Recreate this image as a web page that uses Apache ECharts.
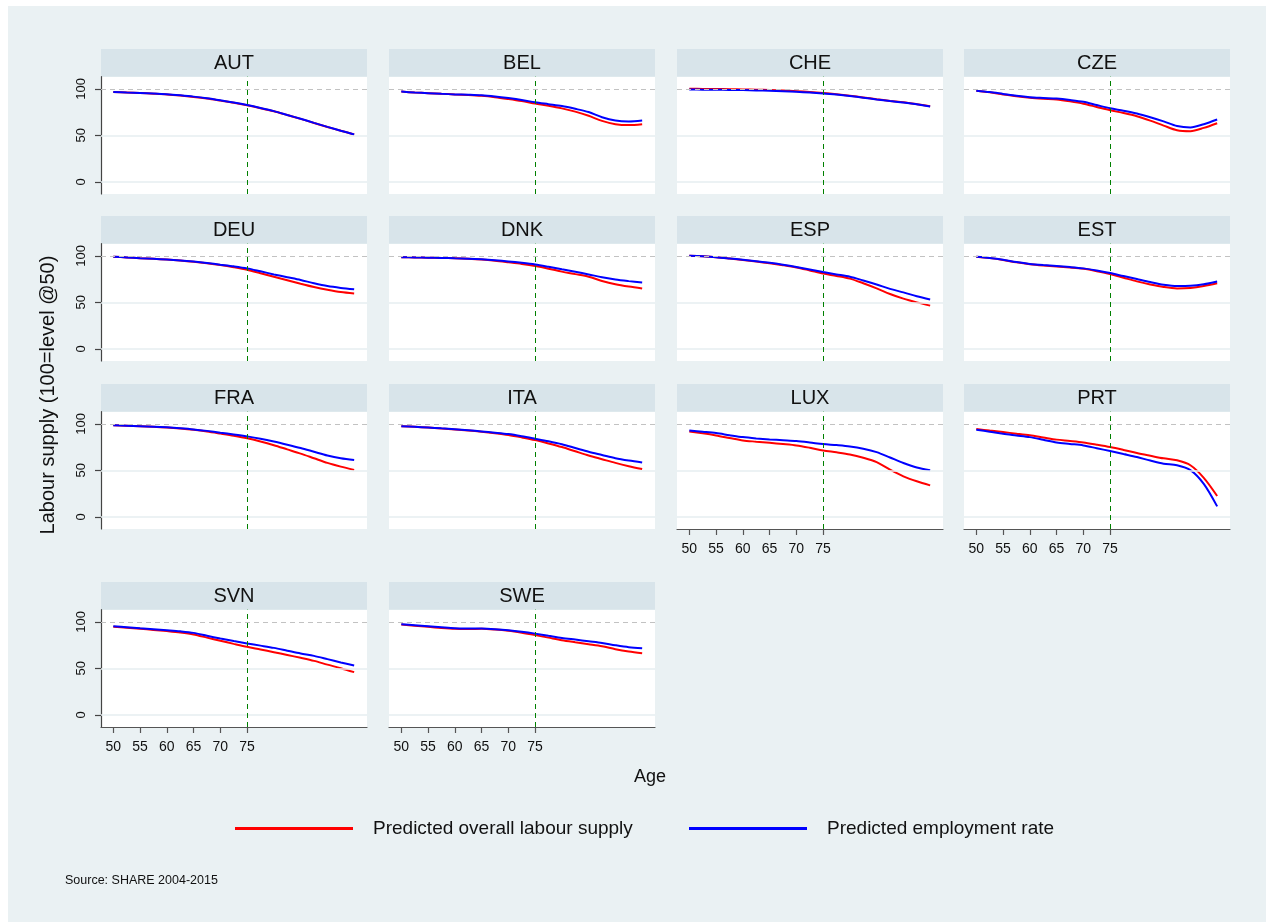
<!DOCTYPE html>
<html>
<head>
<meta charset="utf-8">
<script src="https://cdn.jsdelivr.net/npm/echarts@6/dist/echarts.min.js"></script>
<style>
html,body{margin:0;padding:0;background:#ffffff;}
#bg{position:absolute;left:8px;top:6px;width:1258px;height:916px;background:#eaf1f3;}
#chart{position:absolute;left:0;top:0;width:1272px;height:922px;}
</style>
</head>
<body>
<div id="bg"></div>
<div id="chart"></div>
<script>
// ---------- data ----------
const ages = [50, 52.5, 55, 57.5, 60, 62.5, 65, 67.5, 70, 72.5, 75, 77.5, 80, 82.5, 85, 87.5, 90, 92.5, 95];
const xTickLabels = [50, 55, 60, 65, 70, 75];
const yTickLabels = [0, 50, 100];
const countries = ['AUT','BEL','CHE','CZE','DEU','DNK','ESP','EST','FRA','ITA','LUX','PRT','SVN','SWE'];
const seriesNames = ['Predicted overall labour supply', 'Predicted employment rate'];

const AUT_supply     = [96.5, 96.0, 95.5, 94.8, 94.0, 92.8, 91.3, 89.5, 87.3, 85.0, 82.3, 79.2, 75.8, 71.8, 67.7, 63.3, 59.0, 55.0, 51.0];
const AUT_employment = [96.5, 96.0, 95.6, 95.0, 94.2, 93.0, 91.6, 89.8, 87.6, 85.2, 82.5, 79.4, 76.0, 71.9, 67.8, 63.4, 59.1, 55.0, 51.0];
const BEL_supply     = [97.0, 96.0, 95.3, 94.6, 94.0, 93.4, 92.5, 91.0, 89.0, 86.8, 84.2, 81.8, 79.0, 75.5, 71.0, 65.5, 62.0, 61.0, 62.0];
const BEL_employment = [97.0, 96.0, 95.3, 94.6, 94.0, 93.6, 93.0, 91.7, 90.0, 88.0, 85.5, 83.5, 81.5, 78.5, 75.0, 69.5, 66.0, 65.0, 66.0];
const CHE_supply     = [100.0, 99.9, 99.8, 99.6, 99.3, 99.1, 98.8, 98.3, 97.5, 96.6, 95.5, 94.1, 92.5, 90.7, 88.8, 87.0, 85.5, 83.5, 81.3];
const CHE_employment = [99.3, 99.1, 99.0, 98.8, 98.6, 98.3, 98.0, 97.5, 96.8, 96.0, 95.0, 93.8, 92.3, 90.5, 88.5, 86.8, 85.3, 83.3, 81.0];
const CZE_supply     = [98.0, 96.2, 94.0, 92.0, 90.5, 89.4, 88.5, 86.5, 84.0, 80.5, 77.0, 74.0, 70.5, 65.8, 60.5, 55.5, 54.5, 58.0, 63.0];
const CZE_employment = [98.0, 96.5, 94.5, 92.5, 91.0, 90.2, 89.5, 88.0, 86.0, 82.5, 79.0, 76.5, 73.5, 69.5, 65.0, 60.0, 58.5, 62.0, 67.0];
const DEU_supply     = [99.0, 98.3, 97.5, 96.8, 96.0, 94.9, 93.5, 91.9, 90.0, 87.7, 85.0, 81.3, 77.5, 73.8, 70.0, 66.5, 63.5, 61.0, 59.5];
const DEU_employment = [99.0, 98.3, 97.5, 96.8, 96.0, 95.0, 93.8, 92.3, 90.5, 88.7, 86.5, 83.3, 80.0, 77.0, 74.0, 70.5, 67.5, 65.5, 64.0];
const DNK_supply     = [98.5, 98.3, 98.0, 97.7, 97.3, 96.8, 96.0, 94.7, 93.0, 91.2, 89.0, 86.2, 83.0, 80.3, 77.5, 73.0, 69.5, 67.0, 65.0];
const DNK_employment = [98.5, 98.3, 98.0, 97.7, 97.3, 96.9, 96.2, 95.2, 94.0, 92.5, 90.7, 88.2, 85.5, 82.8, 80.0, 77.0, 74.5, 72.8, 71.4];
const ESP_supply     = [100.0, 99.4, 98.5, 97.1, 95.5, 93.8, 92.0, 89.9, 87.5, 84.3, 81.0, 78.4, 75.5, 70.5, 65.0, 59.0, 54.0, 50.0, 46.5];
const ESP_employment = [100.0, 99.4, 98.5, 97.2, 95.8, 94.2, 92.5, 90.4, 88.0, 85.3, 82.5, 80.0, 77.5, 73.5, 69.2, 64.5, 60.7, 56.5, 53.0];
const EST_supply     = [99.0, 97.5, 95.5, 93.0, 91.0, 89.6, 88.5, 87.4, 86.0, 83.5, 80.5, 76.5, 72.5, 69.2, 66.5, 65.0, 65.5, 67.5, 70.5];
const EST_employment = [99.0, 97.7, 95.8, 93.3, 91.3, 90.0, 89.0, 87.9, 86.5, 84.3, 81.5, 78.2, 75.0, 71.8, 69.0, 67.5, 67.8, 69.5, 72.5];
const FRA_supply     = [98.5, 98.0, 97.5, 96.8, 96.0, 94.9, 93.5, 91.7, 89.5, 87.2, 84.5, 81.0, 77.0, 72.5, 68.0, 63.0, 58.0, 54.0, 50.5];
const FRA_employment = [98.5, 98.0, 97.5, 96.9, 96.2, 95.2, 94.0, 92.4, 90.5, 88.6, 86.5, 84.0, 81.0, 77.6, 74.0, 70.0, 66.0, 63.0, 61.0];
const ITA_supply     = [97.5, 96.8, 96.0, 95.0, 94.0, 92.8, 91.5, 89.9, 88.0, 85.4, 82.5, 78.9, 75.0, 70.5, 66.0, 62.0, 58.0, 54.5, 51.5];
const ITA_employment = [97.5, 96.8, 96.0, 95.1, 94.2, 93.1, 91.8, 90.5, 89.0, 86.7, 84.0, 81.2, 78.0, 74.0, 70.0, 66.5, 63.0, 60.5, 58.5];
const LUX_supply     = [91.8, 89.8, 87.5, 84.8, 82.1, 80.8, 79.6, 78.3, 76.8, 74.3, 71.4, 69.4, 67.1, 63.6, 58.9, 50.8, 43.6, 38.3, 33.9];
const LUX_employment = [92.9, 91.5, 90.0, 87.8, 85.7, 84.3, 83.2, 82.3, 81.4, 79.9, 78.2, 77.1, 75.7, 73.3, 69.6, 63.8, 57.9, 53.0, 50.0];
const PRT_supply     = [94.3, 92.7, 91.1, 89.4, 87.6, 85.3, 83.0, 81.6, 80.0, 77.6, 75.0, 71.9, 68.6, 65.7, 62.9, 60.8, 55.5, 42.0, 22.5];
const PRT_employment = [93.6, 91.5, 89.3, 87.5, 85.7, 82.9, 80.0, 78.4, 76.8, 73.8, 70.7, 67.5, 64.3, 60.5, 57.2, 55.5, 50.3, 35.5, 11.3];
const SVN_supply     = [94.6, 93.6, 92.5, 91.3, 90.0, 88.5, 86.4, 83.0, 79.6, 76.3, 73.1, 70.3, 67.4, 64.4, 61.3, 58.0, 54.0, 50.2, 45.9];
const SVN_employment = [95.3, 94.2, 93.1, 92.1, 91.0, 89.8, 88.1, 85.0, 82.0, 79.3, 76.7, 74.4, 72.0, 69.0, 66.0, 63.4, 59.9, 56.3, 53.0];
const SWE_supply     = [97.1, 95.8, 94.6, 93.4, 92.5, 92.3, 92.5, 91.7, 90.3, 88.2, 85.7, 83.0, 80.3, 78.1, 76.0, 73.8, 70.6, 68.1, 66.3];
const SWE_employment = [97.4, 96.3, 95.2, 94.1, 93.1, 92.8, 92.7, 92.0, 90.9, 89.3, 87.3, 85.0, 82.7, 80.9, 79.1, 77.3, 74.8, 72.7, 71.6];

const panelData = [
  [AUT_supply, AUT_employment], [BEL_supply, BEL_employment], [CHE_supply, CHE_employment], [CZE_supply, CZE_employment],
  [DEU_supply, DEU_employment], [DNK_supply, DNK_employment], [ESP_supply, ESP_employment], [EST_supply, EST_employment],
  [FRA_supply, FRA_employment], [ITA_supply, ITA_employment], [LUX_supply, LUX_employment], [PRT_supply, PRT_employment],
  [SVN_supply, SVN_employment], [SWE_supply, SWE_employment]
];

// ---------- layout ----------
const FONT = "'Liberation Sans', Arial, Helvetica, sans-serif";
const colX = [101, 389, 677, 964];
const stripTop = [49, 216, 384, 582];
const PW = 266, STRIP_H = 27.7, PH = 117.3;
const bottomPanels = ['LUX', 'PRT', 'SVN', 'SWE'];

const grid = [], xAxis = [], yAxis = [], series = [], graphic = [];

countries.forEach((c, i) => {
  const row = Math.floor(i / 4), col = i % 4;
  const left = colX[col], sTop = stripTop[row], top = sTop + STRIP_H;
  const isBottom = bottomPanels.indexOf(c) >= 0;
  const isLeft = col === 0;

  graphic.push({type: 'rect', silent: true, shape: {x: left, y: sTop, width: PW, height: STRIP_H}, style: {fill: '#d8e4ea'}});
  graphic.push({type: 'text', silent: true, x: left + PW / 2, y: sTop + STRIP_H / 2 + 0.5,
    style: {text: c, fontSize: 20, fontFamily: FONT, fill: '#111', align: 'center', verticalAlign: 'middle', textAlign: 'center', textVerticalAlign: 'middle'}});

  grid.push({left: left, top: top, width: PW, height: PH, show: true, backgroundColor: '#ffffff', borderWidth: 0});

  xAxis.push({
    gridIndex: i, type: 'value', min: 47.7, max: 97.4,
    axisLine: {show: isBottom, onZero: false, lineStyle: {color: '#555', width: 1.2}},
    axisTick: {show: isBottom, customValues: xTickLabels, length: 6, lineStyle: {color: '#555', width: 1.2}},
    axisLabel: {show: isBottom, customValues: xTickLabels, fontSize: 14, fontFamily: FONT, color: '#111', margin: 13},
    splitLine: {show: false}
  });
  yAxis.push({
    gridIndex: i, type: 'value', min: -13, max: 113,
    axisLine: {show: isLeft, onZero: false, lineStyle: {color: '#444', width: 1.2}},
    axisTick: {show: isLeft, customValues: yTickLabels, length: 6, lineStyle: {color: '#444', width: 1.2}},
    axisLabel: {show: isLeft, customValues: yTickLabels, rotate: 90, fontSize: 13, fontFamily: FONT, color: '#111', margin: 13},
    splitLine: {show: false}
  });

  const sup = panelData[i][0], emp = panelData[i][1];
  const supPts = ages.map((a, k) => [a, sup[k]]);
  const empPts = ages.map((a, k) => [a, emp[k]]);

  // guide lines (grid lines, reference lines)
  series.push({
    name: 'guide' + i, type: 'line', xAxisIndex: i, yAxisIndex: i, data: supPts, z: 1, silent: true,
    showSymbol: false, lineStyle: {opacity: 0}, animation: false,
    markLine: {
      silent: true, symbol: 'none', animation: false, label: {show: false},
      data: [
        {yAxis: 0, lineStyle: {color: '#e6eef1', width: 1.5, type: 'solid'}},
        {yAxis: 50, lineStyle: {color: '#e6eef1', width: 1.5, type: 'solid'}},
        {yAxis: 100, lineStyle: {color: '#c2c2c2', width: 1, type: [5, 4]}},
        {xAxis: 75, lineStyle: {color: '#008000', width: 1, type: [5, 4]}}
      ]
    }
  });
  series.push({
    name: seriesNames[0], type: 'line', xAxisIndex: i, yAxisIndex: i, data: supPts, z: 3,
    showSymbol: false, smooth: 0.3, animation: false,
    itemStyle: {color: '#ff0000'}, lineStyle: {color: '#ff0000', width: 2}
  });
  series.push({
    name: seriesNames[1], type: 'line', xAxisIndex: i, yAxisIndex: i, data: empPts, z: 4,
    showSymbol: false, smooth: 0.3, animation: false,
    itemStyle: {color: '#0000ff'}, lineStyle: {color: '#0000ff', width: 2}
  });
});

graphic.push({type: 'text', silent: true, x: 48, y: 395, rotation: Math.PI / 2,
  style: {text: 'Labour supply (100=level @50)', fontSize: 20, fontFamily: FONT, fill: '#111', align: 'center', verticalAlign: 'middle', textAlign: 'center', textVerticalAlign: 'middle'}});
graphic.push({type: 'text', silent: true, x: 650, y: 777,
  style: {text: 'Age', fontSize: 18, fontFamily: FONT, fill: '#111', align: 'center', verticalAlign: 'middle', textAlign: 'center', textVerticalAlign: 'middle'}});
graphic.push({type: 'text', silent: true, x: 65, y: 881,
  style: {text: 'Source: SHARE 2004-2015', fontSize: 12.5, fontFamily: FONT, fill: '#111', align: 'left', verticalAlign: 'middle', textAlign: 'left', textVerticalAlign: 'middle'}});

const legendCommon = {
  top: 819, padding: 0, icon: 'rect', itemWidth: 118, itemHeight: 3, selectedMode: false,
  textStyle: {fontSize: 19, fontFamily: FONT, color: '#111', padding: [0, 0, 0, 15]}
};

const option = {
  animation: false,
  backgroundColor: 'transparent',
  textStyle: {fontFamily: FONT},
  grid: grid, xAxis: xAxis, yAxis: yAxis, series: series,
  graphic: graphic,
  legend: [
    Object.assign({}, legendCommon, {left: 235, data: [seriesNames[0]]}),
    Object.assign({}, legendCommon, {left: 689, data: [seriesNames[1]]})
  ]
};

const chart = echarts.init(document.getElementById('chart'), null, {renderer: 'canvas'});
chart.setOption(option);
</script>
</body>
</html>
